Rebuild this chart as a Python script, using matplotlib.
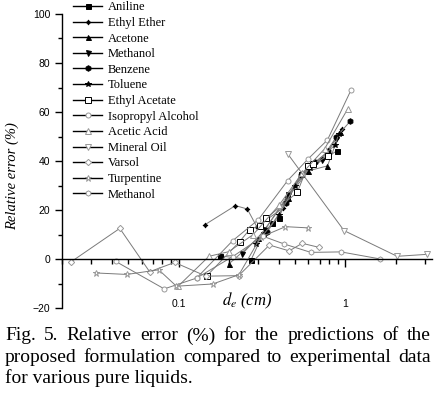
import matplotlib
matplotlib.use("Agg")
import matplotlib.pyplot as plt
from matplotlib.ticker import FixedLocator, NullFormatter, LogLocator, MultipleLocator

# ---- data ----
aniline_x = [0.176, 0.272, 0.32, 0.364, 0.398, 0.447, 0.54, 0.89]
aniline_y = [1.3, -0.3, 10.2, 14.6, 16.6, 24.8, 34.7, 44.2]
ether_x = [0.143, 0.219, 0.258, 0.294, 0.42, 0.55, 0.72, 0.95]
ether_y = [13.9, 21.8, 20.4, 13.2, 20.7, 35.0, 41.0, 53.0]
acetone_x = [0.20, 0.30, 0.45, 0.60, 0.78, 0.93]
acetone_y = [-2.0, 8.5, 25.0, 36.0, 38.0, 52.0]
methanol_x = [0.24, 0.33, 0.45, 0.60, 0.72, 0.88]
methanol_y = [2.0, 12.0, 26.0, 37.0, 40.4, 49.0]
benzene_x = [0.34, 0.44, 0.543, 0.66, 0.79, 0.875, 1.07]
benzene_y = [11.0, 23.0, 34.3, 39.7, 43.9, 49.6, 56.3]
toluene_x = [0.29, 0.40, 0.50, 0.615, 0.87, 0.91]
toluene_y = [6.0, 18.0, 30.0, 37.3, 46.7, 51.0]
ethacet_x = [0.148, 0.232, 0.266, 0.306, 0.335, 0.514, 0.595, 0.64, 0.79]
ethacet_y = [-6.8, 7.1, 12.0, 13.6, 16.6, 27.2, 38.0, 38.8, 42.2]
isoprop_x = [0.042, 0.082, 0.128, 0.211, 0.30, 0.45, 0.60, 0.78, 1.08]
isoprop_y = [-1.0, -12.2, -7.8, 7.5, 16.0, 32.0, 41.0, 48.6, 69.0]
acetic_x = [0.099, 0.152, 0.20, 0.28, 0.40, 0.55, 0.75, 1.03]
acetic_y = [-11.2, 1.1, 3.0, 10.0, 22.0, 35.0, 45.0, 61.2]
mineral_x = [0.452, 0.98, 2.04, 3.08]
mineral_y = [42.8, 11.6, 1.1, 1.9]
varsol_x = [0.0225, 0.0444, 0.067, 0.0946, 0.146, 0.229, 0.35, 0.46, 0.55, 0.69]
varsol_y = [-1.3, 12.5, -5.2, -1.4, -7.0, -6.8, 5.7, 3.3, 6.4, 4.8]
turp_x = [0.032, 0.049, 0.076, 0.097, 0.16, 0.23, 0.31, 0.437, 0.60]
turp_y = [-5.7, -6.3, -4.4, -11.1, -10.2, -6.4, 8.9, 13.2, 12.7]
meth2_x = [0.128, 0.211, 0.32, 0.43, 0.62, 0.94, 1.62]
meth2_y = [-7.8, 1.0, 9.3, 6.1, 2.7, 2.9, 0.0]

labels = ["Aniline", "Ethyl Ether", "Acetone", "Methanol", "Benzene", "Toluene",
          "Ethyl Acetate", "Isopropyl Alcohol", "Acetic Acid", "Mineral Oil",
          "Varsol", "Turpentine", "Methanol"]
xs = [aniline_x, ether_x, acetone_x, methanol_x, benzene_x, toluene_x, ethacet_x,
      isoprop_x, acetic_x, mineral_x, varsol_x, turp_x, meth2_x]
ys = [aniline_y, ether_y, acetone_y, methanol_y, benzene_y, toluene_y, ethacet_y,
      isoprop_y, acetic_y, mineral_y, varsol_y, turp_y, meth2_y]

xtick_vals = [0.1, 1]
xtick_labels = ["0.1", "1"]

styles = [
    dict(marker="s", mfc="black", mec="black", ms=3.6),
    dict(marker=(4, 1, 0), mfc="black", mec="black", ms=3.5),
    dict(marker="^", mfc="black", mec="black", ms=3.6),
    dict(marker="v", mfc="black", mec="black", ms=3.6),
    dict(marker="h", mfc="black", mec="black", ms=4.0),
    dict(marker="*", mfc="black", mec="black", ms=4.2),
    dict(marker="s", mfc="white", mec="black", ms=3.8),
    dict(marker="o", mfc="white", mec="#999999", ms=3.6),
    dict(marker="^", mfc="white", mec="#999999", ms=3.8),
    dict(marker="v", mfc="white", mec="#999999", ms=3.8),
    dict(marker="D", mfc="white", mec="#999999", ms=3.2),
    dict(marker="*", mfc="white", mec="#999999", ms=4.8),
    dict(marker="h", mfc="white", mec="#999999", ms=3.8),
]

serif = "Liberation Serif"
sans = "Liberation Sans"

fig = plt.figure(figsize=(4.36, 3.99), dpi=100)
ax = fig.add_axes([62/436, 1-308/399, (432-62)/436, (308-14)/399])

for x, y, lab, st in zip(xs, ys, labels, styles):
    ax.plot(x, y, color="#7a7a7a", lw=0.7, mew=0.7, label=lab, **st)

ax.set_xscale("log")
ax.set_xlim(0.02, 3.3)
ax.set_ylim(-20, 100)

for s in ["top", "right"]:
    ax.spines[s].set_visible(False)
ax.spines["bottom"].set_position(("data", 0))
ax.spines["bottom"].set_linewidth(1.0)
ax.spines["left"].set_linewidth(1.0)

ax.xaxis.set_major_locator(FixedLocator(xtick_vals))
ax.set_xticklabels(xtick_labels)
ax.xaxis.set_minor_locator(LogLocator(base=10, subs=range(2, 10)))
ax.xaxis.set_minor_formatter(NullFormatter())
ax.yaxis.set_major_locator(MultipleLocator(20))
ax.yaxis.set_minor_locator(MultipleLocator(10))
ax.tick_params(axis="x", which="major", direction="out", length=6, width=1, pad=22.5,
               labelsize=7.5)
ax.tick_params(axis="x", which="minor", direction="out", length=3.5, width=1)
ax.tick_params(axis="y", which="major", direction="out", length=5, width=1, labelsize=7.5)
ax.tick_params(axis="y", which="minor", direction="out", length=3, width=1)
for t in ax.get_xticklabels() + ax.get_yticklabels():
    t.set_fontfamily(sans)

ax.set_ylabel("Relative error (%)", fontfamily=serif, fontstyle="italic", fontsize=10.5)
ax.yaxis.set_label_coords((19-62)/370, (308-176)/294)
ax.text(0.5, 0.025, r"$d_e$ (cm)", transform=ax.transAxes, ha="center", va="center",
        fontfamily=serif, fontstyle="italic", fontsize=12,
        math_fontfamily="stix")

leg = fig.legend(loc="upper left", bbox_to_anchor=(72/436, 1.0), frameon=False,
                 prop={"family": serif, "size": 9}, handlelength=2.3,
                 handletextpad=0.45, labelspacing=0.29, borderpad=0.1,
                 borderaxespad=0)
for ln in leg.get_lines():
    ln.set_color("black")
    ln.set_linewidth(1.0)

caption = ["Fig. 5. Relative error (%) for the predictions of the",
           "proposed formulation compared to experimental data",
           "for various pure liquids."]
justify = [True, True, False]
fig.canvas.draw()
renderer = fig.canvas.get_renderer()
x0, x1 = 5, 431
for i, (line, just) in enumerate(zip(caption, justify)):
    ypos = 1 - (336 + 21*i)/399
    if not just:
        fig.text(x0/436, ypos, line, ha="left", va="center",
                 fontfamily=serif, fontsize=14)
        continue
    words = line.split(" ")
    texts = [fig.text(0, ypos, w, ha="left", va="center", fontfamily=serif, fontsize=14)
             for w in words]
    widths = [t.get_window_extent(renderer).width for t in texts]
    gap = (x1 - x0 - sum(widths)) / (len(words) - 1)
    xp = x0
    for t, w in zip(texts, widths):
        t.set_x(xp/436)
        xp += w + gap

fig.savefig("out.png", dpi=100)
